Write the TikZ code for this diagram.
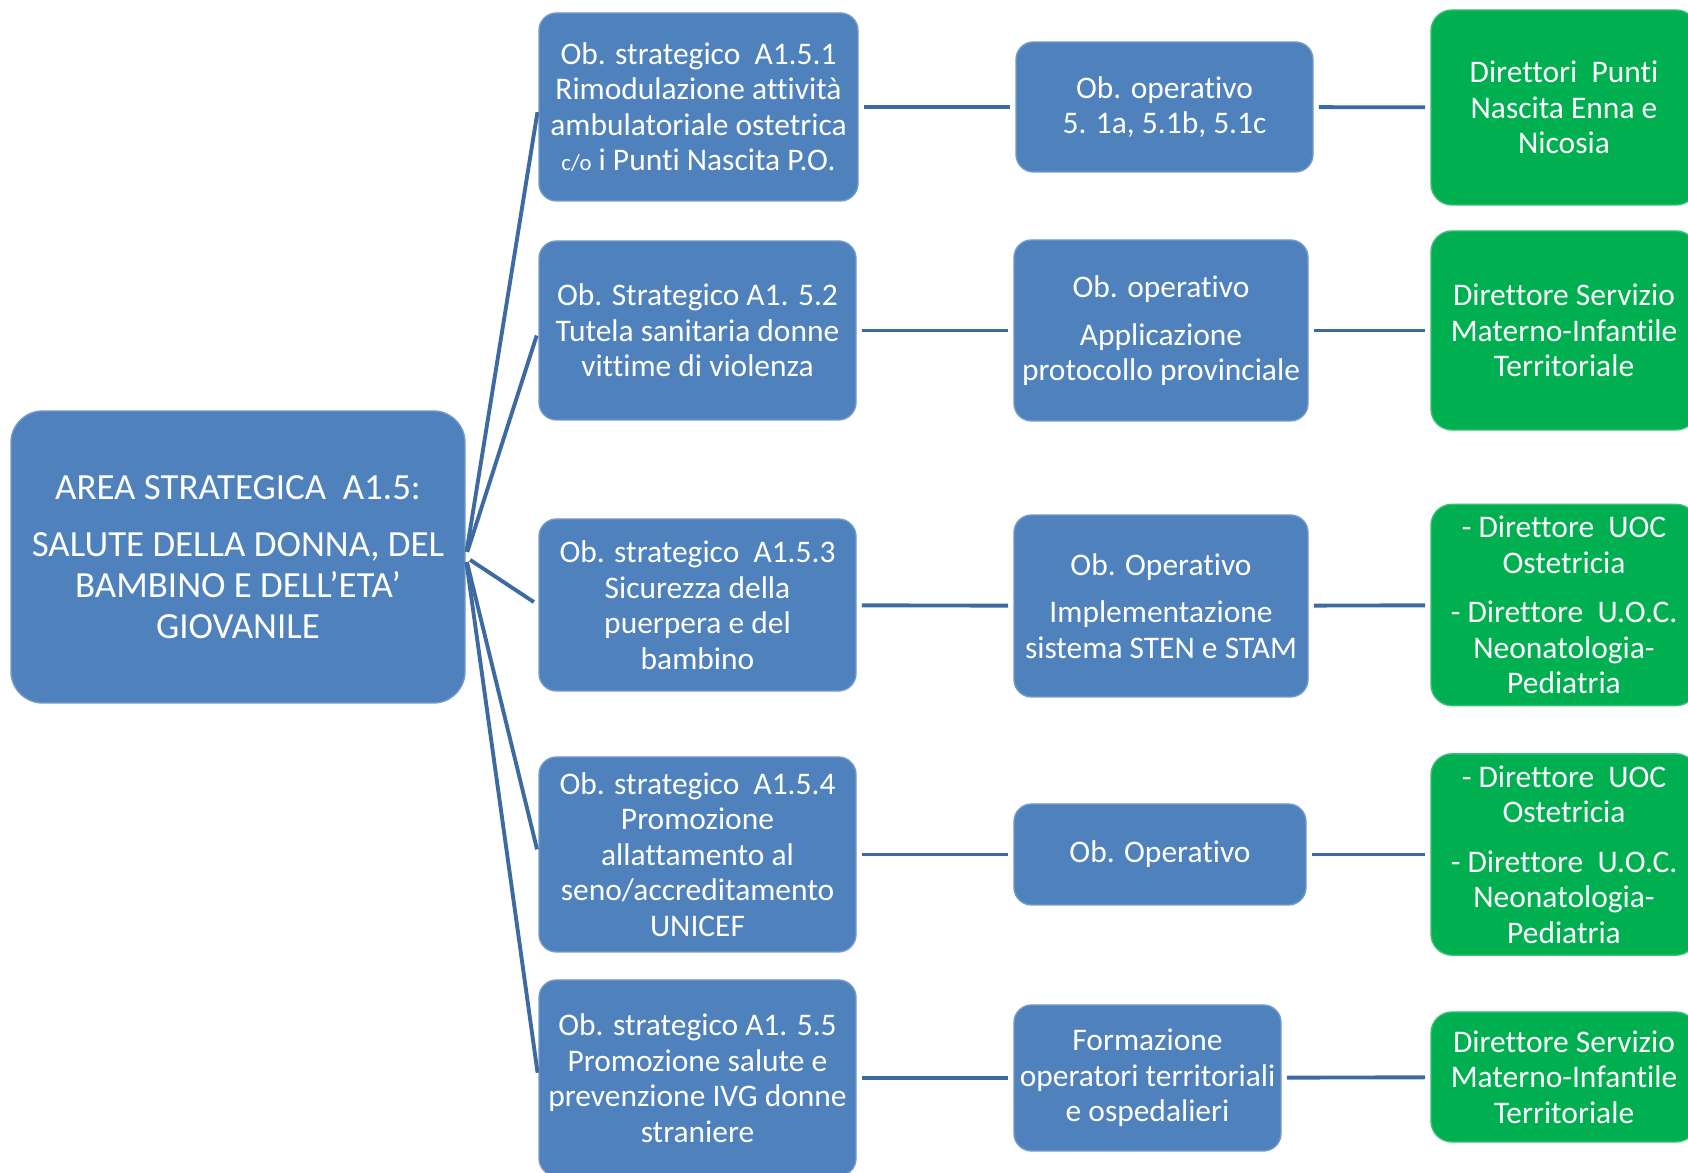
\documentclass[tikz,border=0pt]{standalone}
\usepackage{fontspec}
\setmainfont{Carlito}[Ligatures={NoCommon,NoRare,NoContextual}]
\usepackage{tikz}
\usetikzlibrary{positioning}

\definecolor{obblue}{RGB}{79,129,189}
\definecolor{dirgreen}{RGB}{0,176,80}
\definecolor{linkblue}{RGB}{62,106,162}

\begin{document}
\begin{tikzpicture}[
    areabox/.style={rectangle, fill=obblue, draw=obblue!80!white, thin, rounded corners=9pt, minimum width=4.54cm, minimum height=2.92cm, align=center, text=white, inner xsep=1pt, font=\fontsize{10.5}{11.7}\selectfont},
    strbox/.style={rectangle, fill=obblue, draw=obblue!80!white, thin, rounded corners=5pt, minimum width=3.17cm, align=center, text=white, inner xsep=1pt, font=\fontsize{8.95}{10.1}\selectfont},
    opbox/.style={rectangle, fill=obblue, draw=obblue!80!white, thin, rounded corners=5pt, align=center, text=white, inner xsep=1pt, font=\fontsize{8.95}{10.1}\selectfont},
    dirbox/.style={rectangle, fill=dirgreen, draw=dirgreen!80!white, thin, rounded corners=6pt, minimum width=2.66cm, align=center, text=white, inner xsep=1pt, font=\fontsize{8.95}{10.1}\selectfont},
    link/.style={line width=1.1pt, draw=linkblue, shorten <=1.5pt, shorten >=1.5pt},
  ]
    \useasboundingbox (0,0) rectangle (16.88,11.73);
    \clip (0,0) rectangle (16.88,11.73);

    % Area strategica
    \node[areabox] (area) at (2.38,6.16) {AREA STRATEGICA\ \ A1.5:\\[4.5pt]SALUTE DELLA DONNA, DEL\\BAMBINO E DELL’ETA’\\GIOVANILE};

    % Obiettivi strategici
    \node[strbox, minimum width=3.19cm, minimum height=1.88cm] (str1) at (6.985,10.66) {Ob. strategico\ \ A1.5.1\\Rimodulazione attività\\ambulatoriale ostetrica\\{\fontsize{6.5}{7}\selectfont c/o} i Punti Nascita P.O.};
    \node[strbox, minimum height=1.79cm] (str2) at (6.975,8.425) {Ob. Strategico A1. 5.2\\Tutela sanitaria donne\\vittime di violenza};
    \node[strbox, minimum height=1.72cm] (str3) at (6.975,5.68) {Ob. strategico\ \ A1.5.3\\Sicurezza della\\puerpera e del\\bambino};
    \node[strbox, minimum height=1.95cm] (str4) at (6.975,3.185) {Ob. strategico\ \ A1.5.4\\Promozione\\allattamento al\\seno/accreditamento\\UNICEF};
    \node[strbox, minimum height=1.96cm] (str5) at (6.975,0.95) {Ob. strategico A1. 5.5\\Promozione salute e\\prevenzione IVG donne\\straniere};

    % Obiettivi operativi
    \node[opbox, minimum width=2.97cm, minimum height=1.30cm] (op1) at (11.645,10.66) {Ob. operativo\\5. 1a, 5.1b, 5.1c};
    \node[opbox, minimum width=2.94cm, minimum height=1.81cm] (op2) at (11.61,8.425) {Ob. operativo\\[3.5pt]Applicazione\\protocollo provinciale};
    \node[opbox, minimum width=2.94cm, minimum height=1.82cm] (op3) at (11.61,5.67) {Ob. Operativo\\[3.5pt]Implementazione\\sistema STEN e STAM};
    \node[opbox, minimum width=2.92cm, minimum height=1.01cm] (op4) at (11.60,3.185) {Ob. Operativo};
    \node[opbox, minimum width=2.67cm, minimum height=1.46cm] (op5) at (11.475,0.95) {Formazione\\operatori territoriali\\e ospedalieri};

    % Responsabili
    \node[dirbox, minimum height=1.95cm] (dir1) at (15.64,10.655) {Direttori\ \ Punti\\Nascita Enna e\\Nicosia};
    \node[dirbox, minimum height=1.99cm] (dir2) at (15.64,8.425) {Direttore Servizio\\Materno-Infantile\\Territoriale};
    \node[dirbox, minimum height=1.96cm] (dir3) at (15.64,5.68) {- Direttore\ \ UOC\\Ostetricia\\[4pt]- Direttore\ \ U.O.C.\\Neonatologia-\\Pediatria};
    \node[dirbox, minimum height=1.97cm] (dir4) at (15.64,3.185) {- Direttore\ \ UOC\\Ostetricia\\[4pt]- Direttore\ \ U.O.C.\\Neonatologia-\\Pediatria};
    \node[dirbox, minimum height=1.30cm] (dir5) at (15.64,0.96) {Direttore Servizio\\Materno-Infantile\\Territoriale};

    % Fan from area
    \draw[link] (area.east) -- (str1.west);
    \draw[link] (area.east) -- (str2.west);
    \draw[link] (area.east) -- (str3.west);
    \draw[link] (area.east) -- (str4.west);
    \draw[link] (area.east) -- (str5.west);

    % Rows
    \draw[link] (str1) -- (op1);
    \draw[link] (op1) -- (dir1);
    \draw[link] (str2) -- (op2);
    \draw[link] (op2) -- (dir2);
    \draw[link] (str3) -- (op3);
    \draw[link] (op3) -- (dir3);
    \draw[link] (str4) -- (op4);
    \draw[link] (op4) -- (dir4);
    \draw[link] (str5) -- (op5);
    \draw[link] (op5) -- (dir5);

  \end{tikzpicture}
\end{document}
